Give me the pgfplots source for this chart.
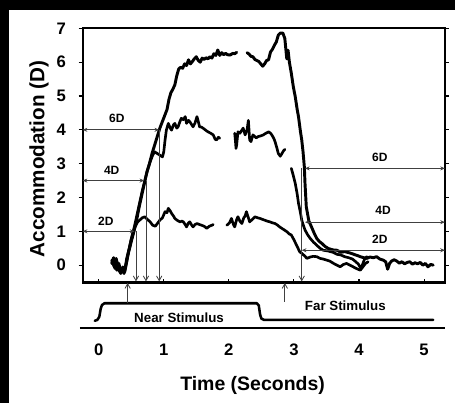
\documentclass[border=0pt]{standalone}
\usepackage{fontspec}
\setmainfont{Liberation Sans}
\usepackage{pgfplots}
\pgfplotsset{compat=1.18}
\usetikzlibrary{arrows.meta}

\begin{document}
\begin{tikzpicture}
\useasboundingbox (0,0) rectangle (341.25pt,302.25pt);
\fill[black] (0,0) rectangle (341.25pt,302.25pt);
\fill[white] (6.75pt,0) rectangle (341.25pt,294.75pt);

\tikzset{
  trace/.style={black, line width=2pt, line join=round, line cap=round},
  dim/.style={black!75, line width=0.6pt, {Stealth[length=3.5pt,width=3pt]}-{Stealth[length=3.5pt,width=3pt]}},
  down/.style={black!75, line width=0.6pt, -{Straight Barb[length=3.5pt,width=4pt]}},
  lab/.style={font=\bfseries\fontsize{9}{9}\selectfont},
}

% main record
\begin{axis}[
  at={(62.0pt,90.2pt)}, anchor=south west,
  scale only axis, width=271.7pt, height=190.8pt,
  xmin=-0.246, xmax=5.32, ymin=-0.52, ymax=7,
  xtick={0,1,2,3,4,5}, xticklabels={},
  xtick pos=bottom, xtick align=inside,
  ytick={0,1,2,3,4,5,6,7}, ytick pos=both, yticklabel pos=left,
  ytick align=outside,
  major tick length=3pt,
  tick style={black, line width=0.8pt},
  axis line style={line width=1.3pt},
  /pgf/number format/assume math mode=true,
  yticklabel style={font=\bfseries\fontsize{12.5}{12.5}\selectfont, xshift=-6pt},
  ylabel={Accommodation (D)},
  ylabel style={font=\bfseries\fontsize{15.5}{15.5}\selectfont,
    at={([xshift=-22pt]axis description cs:0,0.486)},
    anchor=south},
  unbounded coords=jump,
  clip=false,
]
% 6D response
\addplot[trace, line width=2.2pt] coordinates {
(0.20,0.05)(0.23,0.22)(0.26,0.0)(0.28,-0.15)(0.31,0.05)(0.34,-0.2)(0.37,-0.1)(0.40,-0.2)
(0.43,0.1)(0.46,0.4)(0.50,0.75)(0.54,1.0)(0.58,1.3)(0.62,1.7)(0.66,2.05)(0.70,2.4)
(0.74,2.75)(0.78,3.0)(0.82,3.3)(0.86,3.55)(0.90,3.8)(0.94,4.05)(0.98,4.25)(1.02,4.45)
(1.05,4.6)(1.08,4.9)(1.11,5.1)(1.14,5.2)(1.17,5.33)(1.20,5.6)(1.23,5.8)(1.26,5.85)
(1.29,5.82)(1.32,5.95)(1.35,5.9)(1.38,6.07)(1.41,5.95)(1.44,6.02)(1.47,6.1)(1.50,6.16)
(1.53,6.05)(1.56,6.0)(1.59,6.12)(1.62,6.08)(1.65,6.13)(1.68,6.1)(1.71,6.16)(1.74,6.12)
(1.77,6.25)(1.80,6.2)(1.83,6.36)(1.86,6.2)(1.89,6.28)(1.92,6.22)(1.95,6.26)(1.98,6.22)
(2.02,6.21)(2.06,6.26)(2.09,6.25)(2.12,6.29)
(2.20,nan)
(2.28,6.28)(2.31,6.24)(2.34,6.17)(2.37,6.16)(2.40,6.08)(2.43,6.05)(2.46,6.02)(2.49,5.95)
(2.52,5.88)(2.55,5.95)(2.58,6.05)(2.61,6.07)(2.64,6.3)(2.67,6.38)(2.70,6.5)(2.73,6.6)
(2.76,6.8)(2.79,6.86)(2.83,6.86)(2.86,6.7)(2.88,6.3)(2.89,6.1)(2.91,6.35)(2.93,6.0)
(2.96,5.67)(2.99,5.28)(3.02,4.98)(3.05,4.6)(3.07,4.39)(3.10,3.95)(3.12,3.70)(3.14,3.35)
(3.16,2.9)(3.17,2.42)(3.19,1.72)(3.23,1.3)(3.27,1.13)(3.31,0.95)(3.35,0.79)(3.39,0.7)
(3.43,0.64)(3.48,0.55)(3.53,0.49)(3.60,0.45)(3.66,0.44)(3.72,0.38)(3.78,0.40)(3.86,0.36)
(3.92,0.32)(3.98,0.28)(4.02,0.25)(4.07,0.22)(4.12,0.2)(4.17,0.24)(4.22,0.22)(4.27,0.25)
(4.32,0.18)(4.37,0.15)(4.41,0.1)(4.44,-0.12)(4.47,0.05)(4.50,0.12)(4.54,0.16)(4.58,0.12)
(4.62,0.06)(4.66,0.1)(4.70,0.04)(4.74,0.08)(4.78,0.10)(4.82,0.03)(4.86,0.07)(4.90,0.04)
(4.94,0.08)(4.98,0.0)(5.02,0.05)(5.06,-0.05)(5.10,0.02)(5.14,0.0)
};
% 4D response
\addplot[trace] coordinates {
(0.20,0.15)(0.23,0.0)(0.25,-0.1)(0.28,0.1)(0.31,-0.15)(0.34,-0.25)(0.37,-0.05)(0.40,-0.15)
(0.43,0.2)(0.47,0.5)(0.51,0.85)(0.55,1.15)(0.59,1.5)(0.63,1.85)(0.67,2.2)(0.71,2.5)
(0.75,2.8)(0.79,3.05)(0.83,3.25)(0.86,3.35)(0.90,3.3)(0.94,3.25)(0.98,3.2)(1.00,3.35)
(1.02,3.7)(1.04,3.99)(1.07,4.19)(1.10,4.05)(1.12,3.99)(1.15,4.15)(1.17,4.19)(1.20,4.05)
(1.22,4.09)(1.25,4.25)(1.27,4.34)(1.30,4.3)(1.33,4.39)(1.35,4.19)(1.38,4.28)(1.40,4.24)
(1.43,4.15)(1.45,4.09)(1.48,4.2)(1.51,4.39)(1.53,4.25)(1.55,4.09)(1.58,4.08)(1.61,4.04)
(1.65,3.98)(1.68,3.94)(1.72,3.9)(1.76,3.85)(1.79,3.72)(1.81,3.70)(1.84,3.78)(1.86,3.75)
(1.95,nan)
(2.09,3.90)(2.10,3.7)(2.11,3.45)(2.12,3.55)(2.14,3.94)(2.17,3.9)(2.20,3.99)(2.22,4.05)
(2.25,3.85)(2.28,4.0)(2.30,4.28)(2.32,3.70)(2.34,3.65)(2.37,3.85)(2.40,3.8)(2.42,3.76)
(2.45,3.80)(2.49,3.82)(2.53,3.85)(2.57,3.9)(2.61,3.94)(2.64,3.9)(2.66,3.85)(2.69,3.75)
(2.71,3.65)(2.74,3.45)(2.76,3.30)(2.79,3.22)(2.81,3.28)(2.84,3.38)(2.86,3.42)
(2.91,nan)
(2.96,2.86)(2.99,2.65)(3.02,2.42)(3.05,2.1)(3.07,1.83)(3.10,1.55)(3.12,1.33)(3.15,1.15)
(3.17,1.04)(3.21,0.9)(3.25,0.79)(3.30,0.68)(3.35,0.59)(3.40,0.5)(3.45,0.44)(3.52,0.42)
(3.60,0.38)(3.66,0.32)(3.72,0.30)(3.78,0.25)(3.84,0.22)(3.90,0.18)(3.95,0.1)(3.99,0.03)
(4.03,-0.1)(4.06,0.05)(4.09,0.2)(4.12,0.25)
};
% 2D response
\addplot[trace] coordinates {
(0.21,0.1)(0.24,-0.05)(0.27,0.2)(0.30,-0.05)(0.33,-0.2)(0.36,-0.15)(0.39,-0.25)(0.42,0.0)
(0.45,0.3)(0.49,0.6)(0.53,0.9)(0.56,1.13)(0.60,1.28)(0.63,1.33)(0.67,1.4)(0.71,1.43)
(0.75,1.35)(0.79,1.28)(0.83,1.18)(0.87,1.15)(0.91,1.25)(0.94,1.33)(0.98,1.4)(1.02,1.58)
(1.05,1.55)(1.07,1.68)(1.10,1.6)(1.12,1.53)(1.15,1.45)(1.17,1.38)(1.21,1.32)(1.25,1.28)
(1.28,1.3)(1.30,1.28)(1.33,1.2)(1.35,1.13)(1.38,1.25)(1.40,1.28)(1.43,1.18)(1.45,1.13)
(1.48,1.2)(1.51,1.23)(1.55,1.2)(1.58,1.18)(1.62,1.15)(1.66,1.09)(1.70,1.15)(1.74,1.18)
(1.76,1.20)
(1.86,nan)
(1.97,1.18)(2.01,1.25)(2.04,1.38)(2.07,1.2)(2.09,1.13)(2.12,1.35)(2.14,1.43)(2.17,1.3)
(2.20,1.23)(2.23,1.4)(2.25,1.45)(2.27,1.58)(2.30,1.4)(2.32,1.28)(2.36,1.35)(2.40,1.43)
(2.44,1.4)(2.48,1.38)(2.52,1.35)(2.55,1.33)(2.59,1.3)(2.63,1.28)(2.67,1.25)(2.71,1.23)
(2.75,1.18)(2.78,1.13)(2.82,1.08)(2.86,1.03)(2.89,0.99)(2.93,0.92)(2.96,0.89)(3.00,0.75)
(3.04,0.59)(3.07,0.47)(3.09,0.39)(3.12,0.35)(3.16,0.28)(3.20,0.20)(3.25,0.24)(3.30,0.26)
(3.35,0.25)(3.40,0.2)(3.45,0.18)(3.50,0.15)(3.55,0.12)(3.61,0.05)(3.66,0.0)(3.71,-0.05)
(3.76,0.02)(3.81,0.05)(3.86,0.0)(3.91,-0.05)(3.96,-0.1)(4.02,-0.15)(4.06,-0.05)(4.10,0.05)
(4.14,0.1)
};
% latency markers, near step
\draw[dim] (axis cs:-0.246,4.0) -- (axis cs:0.93,4.0);
\draw[dim] (axis cs:-0.246,2.5) -- (axis cs:0.70,2.5);
\draw[dim] (axis cs:-0.246,1.0) -- (axis cs:0.55,1.0);
\draw[down] (axis cs:0.93,4.0) -- (axis cs:0.93,-0.48);
\draw[down] (axis cs:0.727,2.5) -- (axis cs:0.727,-0.48);
\draw[down] (axis cs:0.573,1.0) -- (axis cs:0.573,-0.48);
\node[lab] at (axis cs:0.28,4.34) {6D};
\node[lab] at (axis cs:0.20,2.81) {4D};
\node[lab] at (axis cs:0.11,1.30) {2D};
% far step
\draw[dim] (axis cs:3.17,2.86) -- (axis cs:5.32,2.86);
\draw[dim] (axis cs:3.17,1.27) -- (axis cs:5.32,1.27);
\draw[dim] (axis cs:3.12,0.44) -- (axis cs:5.32,0.44);
\draw[down] (axis cs:3.12,2.86) -- (axis cs:3.12,-0.48);
\node[lab] at (axis cs:4.32,3.20) {6D};
\node[lab] at (axis cs:4.37,1.61) {4D};
\node[lab] at (axis cs:4.32,0.76) {2D};
\draw[line width=2pt] (axis cs:-0.246,-0.52) -- (axis cs:5.32,-0.52);
\end{axis}

% stimulus trace
\begin{axis}[
  at={(62.0pt,56.25pt)}, anchor=south west,
  scale only axis, width=271.7pt, height=33.75pt,
  xmin=-0.246, xmax=5.32, ymin=0, ymax=1,
  axis line style={draw=none},
  xtick={0,1,2,3,4,5}, ytick=\empty,
  major tick length=0pt,
  /pgf/number format/assume math mode=true,
  xticklabel style={font=\bfseries\fontsize{12.5}{12.5}\selectfont,
    text height=9pt, text depth=0pt, anchor=north, yshift=-8pt},
  xlabel={Time (Seconds)},
  xlabel style={font=\bfseries\fontsize{14.6}{14.6}\selectfont, at={(axis description cs:0.469,0)},
    anchor=north, yshift=-32.5pt},
  clip=false,
]
\addplot[trace, line width=1.9pt] coordinates {
(-0.06,0.16)(-0.02,0.18)(0.01,0.25)(0.03,0.42)(0.05,0.51)(0.09,0.55)(2.43,0.55)
(2.46,0.50)(2.48,0.30)(2.50,0.21)(2.54,0.18)(5.14,0.18)
};
\draw[down] (axis cs:0.445,0.55) -- (axis cs:0.445,1.0);
\draw[down] (axis cs:2.86,0.58) -- (axis cs:2.86,1.0);
\node[font=\bfseries\fontsize{10}{10}\selectfont] at (axis cs:1.235,0.23) {Near Stimulus};
\node[font=\bfseries\fontsize{10}{10}\selectfont] at (axis cs:3.79,0.49) {Far Stimulus};
\draw[line width=1pt] (axis cs:-0.287,0) -- (axis cs:5.32,0);
\end{axis}
\end{tikzpicture}
\end{document}
